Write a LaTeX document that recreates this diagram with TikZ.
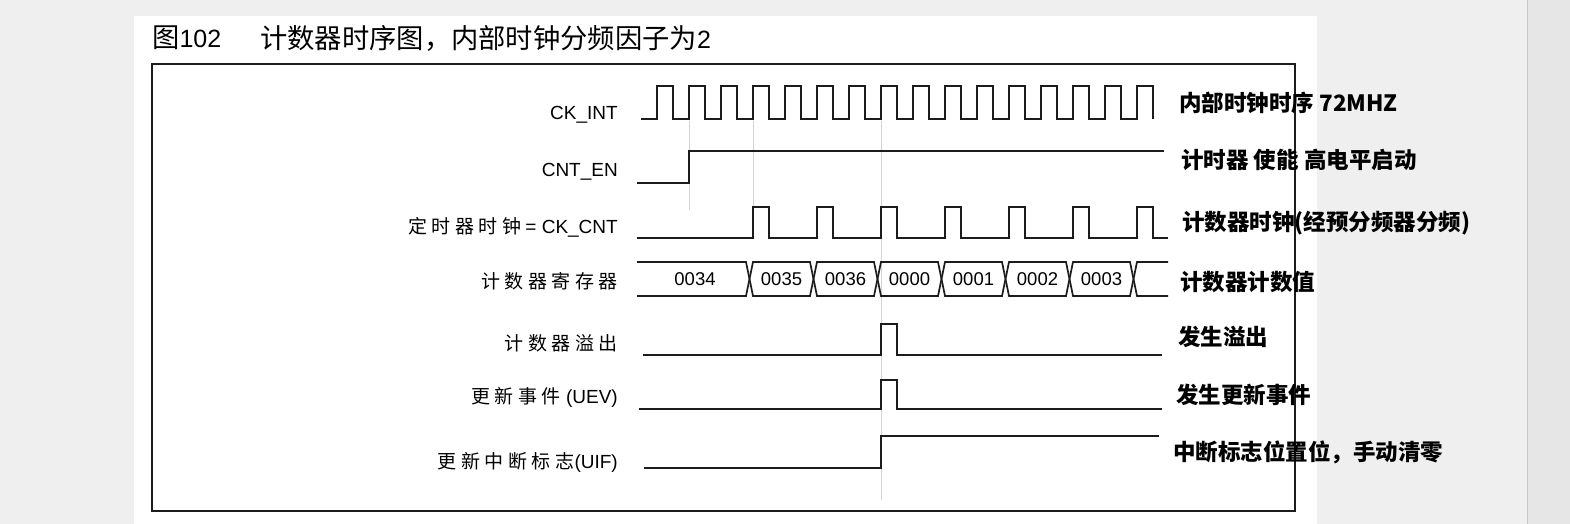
\documentclass[tikz,border=0pt]{standalone}
\usepackage{fontspec}
\setmainfont{Liberation Sans}
\newfontfamily\cjk{Noto Sans CJK SC}
\newfontfamily\cjkwide[LetterSpace=24]{Noto Sans CJK SC}
\definecolor{backgray}{HTML}{EFEFEF}
\definecolor{bargray}{HTML}{E6E6E6}
\definecolor{barline}{HTML}{C8C8C8}
\definecolor{ink}{HTML}{1C1C1C}
\definecolor{guidegray}{HTML}{D2D2D2}
\newcommand{\zh}[1]{{\cjkwide #1}}

\begin{document}
\begin{tikzpicture}[x=1pt,y=-1pt,
  wave/.style={draw=ink,line width=1.7pt},
  guide/.style={draw=guidegray,line width=0.8pt},
  sig/.style={anchor=east,inner sep=0pt,font=\fontsize{19}{22}\selectfont},
  note/.style={anchor=west,inner sep=0pt,font=\fontsize{22.5}{26}\selectfont\cjk\bfseries},
  val/.style={inner sep=0pt,font=\fontsize{18.5}{22}\selectfont},
  title/.style={anchor=west,inner sep=0pt,font=\fontsize{25}{30}\selectfont},
]
  % page and frame
  \useasboundingbox (0,0) rectangle (1570,524);
  \fill[backgray] (0,0) rectangle (1570,524);
  \fill[bargray] (1527,0) rectangle (1570,524);
  \draw[barline,line width=1pt] (1527,0) -- (1527,524);
  \fill[white] (134,16) rectangle (1317,524);
  \draw[ink,line width=1.8pt] (152,64) rectangle (1295,511);

  \node[title] (fignum) at (152,38) {{\cjk\fontsize{27.3}{32}\selectfont 图}102};
  \node[title] (figtitle) at (260,38) {{\cjk\fontsize{27.3}{32}\selectfont 计数器时序图，内部时钟分频因子为}2};

  % guides
  \draw[guide] (689,121) -- (689,210);
  \draw[guide] (753,121) -- (753,207);
  \draw[guide] (881,121) -- (881,500);

  % signal names
  \node[sig] (ckint)  at (618,115) {CK\_INT};
  \node[sig] (cnten)  at (618,172) {CNT\_EN};
  \node[sig] (ckcnt)  at (618,227) {\zh{定时器时钟}\hspace{4pt}= CK\_CNT};
  \node[sig] (cntreg) at (618,281) {\zh{计数器寄存器}};
  \node[sig] (ovf)    at (618,343) {\zh{计数器溢出}};
  \node[sig] (uev)    at (618,397) {\zh{更新事件} (UEV)};
  \node[sig] (uif)    at (618,462) {\zh{更新中断标志}(UIF)};

  % waves
  \draw[wave] (641,119) \foreach \k in {0,...,15}{ -- ({657+32*\k},119) -- ++(0,-33) -- ++(16,0) -- ++(0,33) };
  \draw[wave] (637,183) -- (689,183) -- (689,151) -- (1164,151);
  \draw[wave] (637,238) \foreach \k in {0,...,6}{ -- ({753+64*\k},238) -- ++(0,-31) -- ++(16,0) -- ++(0,31) } -- (1168,238);

  \draw[wave] (637,262) -- (746,262) -- (749.5,279) -- (746,296) -- (637,296);
  \node[val] (reg0) at (695,279) {0034};
  \foreach \v [count=\k from 0] in {0035,0036,0000,0001,0002,0003}{
    \draw[wave] ({749.5+64*\k},279) -- ++(3.5,-17) -- ({749.5+64*(\k+1)-3.5},262)
      -- ({749.5+64*(\k+1)},279) -- ++(-3.5,17) -- ({749.5+64*\k+3.5},296) -- cycle;
    \node[val] (reg\v) at ({749.5+64*\k+32},279) {\v};
  }
  \draw[wave] (1168,262) -- (1137,262) -- (1133.5,279) -- (1137,296) -- (1168,296);

  \draw[wave] (643,355) -- (881,355) -- (881,324) -- (897,324) -- (897,355) -- (1162,355);
  \draw[wave] (639,409) -- (881,409) -- (881,380) -- (897,380) -- (897,409) -- (1162,409);
  \draw[wave] (644,468) -- (881,468) -- (881,436) -- (1159,436);

  % notes
  \node[note] (nckint) at (1179,103) {内部时钟时序 72MHZ};
  \node[note] (ncnten) at (1181,160) {计时器 使能 高电平启动};
  \node[note] (nckcnt) at (1182,223) {计数器时钟(经预分频器分频)};
  \node[note] (ncnt)   at (1180,282) {计数器计数值};
  \node[note] (novf)   at (1178,337) {发生溢出};
  \node[note] (nuev)   at (1176,395) {发生更新事件};
  \node[note] (nuif)   at (1173,452) {中断标志位置位，手动清零};
\end{tikzpicture}
\end{document}
